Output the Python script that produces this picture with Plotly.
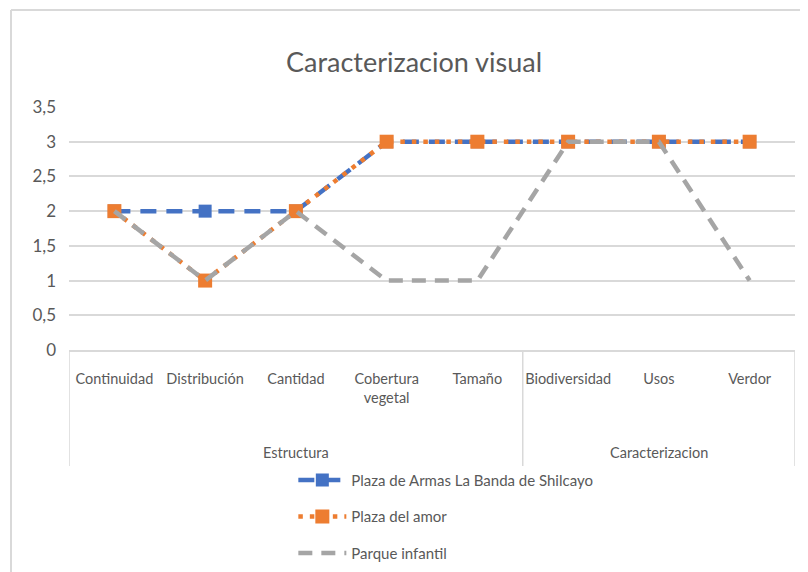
import plotly.graph_objects as go

groups = ["Estructura"] * 5 + ["Caracterizacion"] * 3
categories = ["Continuidad", "Distribución", "Cantidad", "Cobertura<br>vegetal", "Tamaño",
              "Biodiversidad", "Usos", "Verdor"]
series_names = ["Plaza de Armas La Banda de Shilcayo", "Plaza del amor", "Parque infantil"]
plaza_armas = [2, 2, 2, 3, 3, 3, 3, 3]
plaza_amor = [2, 1, 2, 3, 3, 3, 3, 3]
parque_infantil = [2, 1, 2, 1, 1, 3, 3, 1]
y_ticks = [0, 0.5, 1, 1.5, 2, 2.5, 3, 3.5]
y_ticktext = ["0", "0,5", "1", "1,5", "2", "2,5", "3", "3,5"]

FONT = "Lato, Roboto, sans-serif"
TXT = "#595959"
GRID = "#D9D9D9"

# page has an 8px body margin: figure is drawn 8px right/down of the window origin
W, H = 800, 564
L, T, R, B = 61, 99, 787, 342          # plot area in figure pixels
PH = B - T

xi = list(range(len(categories)))

fig = go.Figure()
fig.add_trace(go.Scatter(
    x=xi, y=plaza_armas, name=series_names[0], mode="lines+markers",
    line=dict(color="#4472C4", width=4.5, dash="16px,10px"),
    marker=dict(symbol="square", size=13, color="#4472C4"),
    legendgroup="a"))
fig.add_trace(go.Scatter(
    x=xi, y=plaza_amor, name=series_names[1], mode="lines+markers",
    line=dict(color="#ED7D31", width=4.5, dash="4.5px,7px"),
    marker=dict(symbol="square", size=14, color="#ED7D31"),
    legendgroup="b"))
fig.add_trace(go.Scatter(
    x=xi, y=parque_infantil, name=series_names[2], mode="lines",
    line=dict(color="#A5A5A5", width=4.5, dash="14px,9px"),
    legendgroup="c"))

fig.update_layout(
    width=W, height=H,
    margin=dict(l=L, r=W - R, t=T, b=H - B, autoexpand=False),
    paper_bgcolor="white", plot_bgcolor="white",
    font=dict(family=FONT, size=14, color=TXT),
    title=dict(text="Caracterizacion visual", x=406 / W, xanchor="center",
               y=1 - 55 / H, yanchor="middle",
               font=dict(family=FONT, size=27, color=TXT)),
    showlegend=True,
    legend=dict(orientation="v", x=0.309, xanchor="left", y=-0.468, yanchor="top",
                tracegroupgap=14, font=dict(size=15, color=TXT), itemwidth=48,
                bgcolor="rgba(0,0,0,0)"),
    xaxis=dict(range=[-0.5, len(categories) - 0.5], tickvals=xi, ticktext=categories,
               showgrid=False, zeroline=False, showline=True, linecolor=GRID,
               linewidth=1.5, ticks="", tickangle=0, automargin=False,
               ticklabelstandoff=15, tickfont=dict(size=14.5, color=TXT)),
    yaxis=dict(range=[0, 3.5], tickvals=y_ticks, ticktext=y_ticktext, showgrid=True,
               gridcolor=GRID, gridwidth=1.5, zeroline=False, showline=False,
               automargin=False,
               ticks="", ticklabelstandoff=12, tickfont=dict(size=17, color=TXT)),
)

# group labels and dividers of the category axis
axis_depth = (466 - 350) / PH
start = 0
bounds = [-0.5]
for g in dict.fromkeys(groups):
    n = groups.count(g)
    center = start + (n - 1) / 2
    fig.add_annotation(text=g, x=center, xref="x", y=-(452 - 350) / PH, yref="paper",
                       showarrow=False, yanchor="middle",
                       font=dict(family=FONT, size=14.5, color=TXT))
    start += n
    bounds.append(start - 0.5)
for bx in bounds:
    fig.add_shape(type="line", xref="x", yref="paper", x0=bx, x1=bx, y0=0, y1=-axis_depth,
                  line=dict(color=GRID, width=1.5), layer="below")

# chart border (cropped at right and bottom)
bx0 = (11 - 8 - L) / (R - L)
by0 = (B - (10 - 8)) / PH
fig.add_shape(type="line", xref="paper", yref="paper",
              x0=bx0, x1=1.2, y0=by0, y1=by0,
              line=dict(color=GRID, width=2), layer="below")
fig.add_shape(type="line", xref="paper", yref="paper",
              x0=bx0, x1=bx0, y0=by0, y1=-1.2,
              line=dict(color=GRID, width=2), layer="below")

fig.write_html("out.html")
